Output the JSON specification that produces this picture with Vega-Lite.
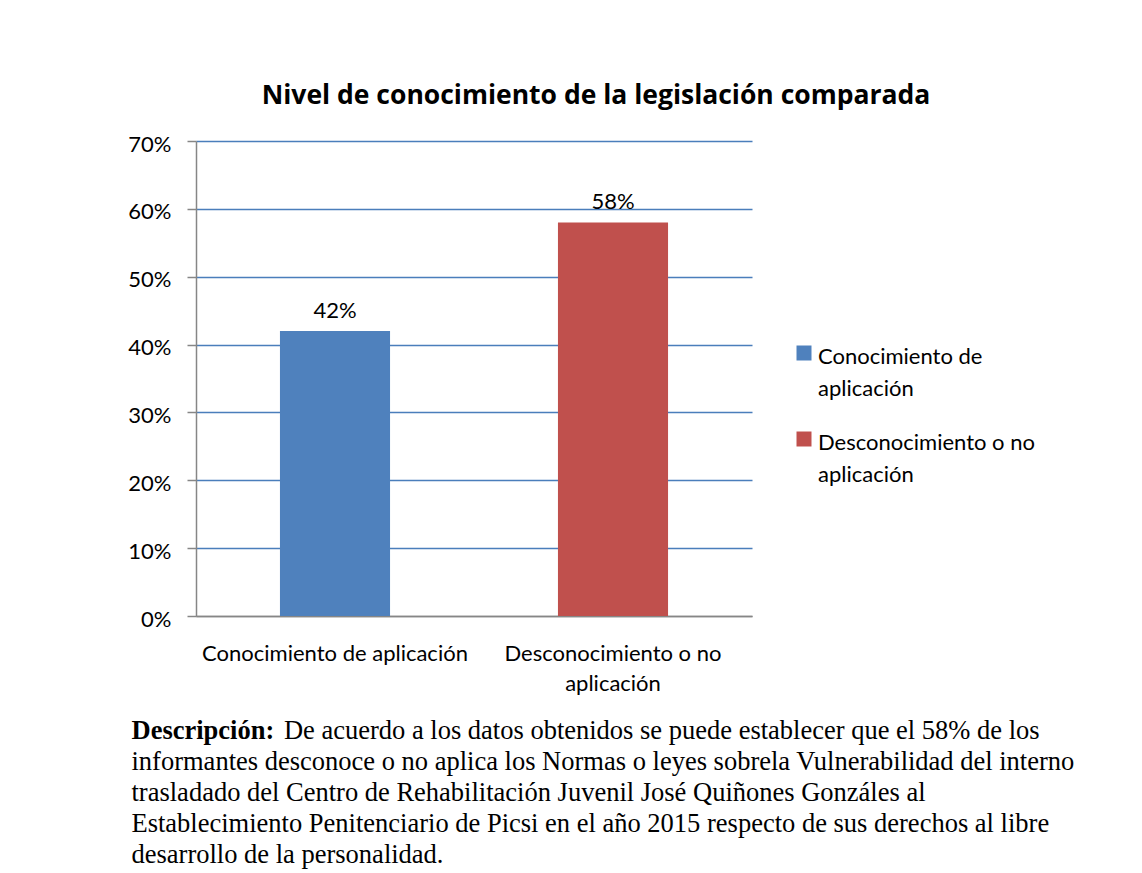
{
  "$schema": "https://vega.github.io/schema/vega-lite/v6.json",
  "width": 556,
  "height": 475,
  "autosize": "none",
  "padding": {"left": 196, "top": 141, "right": 390, "bottom": 257},
  "background": "white",
  "title": {
    "text": "Nivel de conocimiento de la legislación comparada",
    "font": "Open Sans",
    "fontSize": 26.5,
    "fontWeight": "bold",
    "color": "black",
    "anchor": "middle",
    "frame": "group",
    "dx": 122,
    "offset": 24
  },
  "data": {
    "values": [
      {"categoria": "Conocimiento de aplicación", "porcentaje": 0.42},
      {"categoria": "Desconocimiento o no aplicación", "porcentaje": 0.58}
    ]
  },
  "encoding": {
    "x": {
      "field": "categoria",
      "type": "nominal",
      "sort": null,
      "scale": {"paddingInner": 0.604, "paddingOuter": 0.302},
      "axis": {
        "labelAngle": 0,
        "labelFont": "Lato",
        "labelFontSize": 22,
        "labelColor": "black",
        "labelBaseline": "top",
        "labelPadding": 27,
        "labelLineHeight": 30,
        "labelLimit": 500,
        "labelExpr": "datum.label == 'Desconocimiento o no aplicación' ? ['Desconocimiento o no', 'aplicación'] : datum.label",
        "ticks": false,
        "domainColor": "#868686",
        "domainWidth": 1.5,
        "title": [
          "\u200b\u00a0\u00a0\u00a0\u00a0\u00a0\u00a0\u00a0\u00a0\u00a0\u00a0\u00a0\u00a0\u00a0\u00a0\u00a0\u00a0\u00a0\u00a0\u00a0\u00a0\u00a0\u00a0\u00a0De acuerdo a los datos obtenidos se puede establecer que el 58% de los",
          "informantes desconoce o no aplica los Normas o leyes sobrela Vulnerabilidad del interno",
          "trasladado del Centro de Rehabilitación Juvenil José Quiñones Gonzáles al",
          "Establecimiento Penitenciario de Picsi en el año 2015 respecto de sus derechos al libre",
          "desarrollo de la personalidad."
        ],
        "titleFont": "Liberation Serif",
        "titleFontSize": 26.5,
        "titleFontWeight": "normal",
        "titleColor": "black",
        "titleLineHeight": 31,
        "titleAlign": "left",
        "titleAnchor": "start",
        "titleBaseline": "alphabetic",
        "titleX": -65,
        "titleY": 122,
        "titleLimit": 2000
      }
    },
    "y": {
      "field": "porcentaje",
      "type": "quantitative",
      "scale": {"domain": [0, 0.7]},
      "axis": {
        "values": [0, 0.1, 0.2, 0.3, 0.4, 0.5, 0.6, 0.7],
        "format": ".0%",
        "labelFont": "Lato",
        "labelFontSize": 22,
        "labelColor": "black",
        "labelPadding": 16,
        "labelOffset": 3,
        "tickColor": "#868686",
        "tickSize": 9,
        "tickWidth": 1.5,
        "domainColor": "#868686",
        "domainWidth": 1.5,
        "grid": true,
        "gridColor": {"condition": {"test": "datum.value === 0", "value": "#868686"}, "value": "#4a7ebb"},
        "gridWidth": 1.5,
        "gridOpacity": 1,
        "title": "Descripción:",
        "titleFont": "Liberation Serif",
        "titleFontSize": 26.5,
        "titleFontWeight": "bold",
        "titleColor": "black",
        "titleAngle": 0,
        "titleAlign": "left",
        "titleBaseline": "alphabetic",
        "titleX": -65,
        "titleY": 597,
        "titleLimit": 500
      }
    }
  },
  "layer": [
    {
      "mark": {"type": "bar"},
      "encoding": {
        "color": {
          "field": "categoria",
          "type": "nominal",
          "sort": null,
          "scale": {"range": ["#4f81bd", "#c0504d"]},
          "legend": {
            "title": null,
            "orient": "none",
            "legendX": 597,
            "legendY": 201,
            "symbolType": "square",
            "symbolSize": 225,
            "symbolStrokeWidth": 0,
            "symbolOpacity": 1,
            "labelFont": "Lato",
            "labelFontSize": 22,
            "labelColor": "black",
            "labelOffset": 3,
            "labelLimit": 400,
            "rowPadding": 28,
            "labelExpr": "datum.label == 'Conocimiento de aplicación' ? ['Conocimiento de', 'aplicación'] : ['Desconocimiento o no', 'aplicación']",
            "encode": {
              "labels": {"update": {"lineHeight": {"value": 32}, "dy": {"value": 4}}}
            }
          }
        }
      }
    },
    {
      "mark": {"type": "text", "baseline": "alphabetic", "dy": -13, "font": "Lato", "fontSize": 22, "color": "black"},
      "encoding": {
        "text": {"field": "porcentaje", "type": "quantitative", "format": ".0%"}
      }
    }
  ],
  "config": {
    "view": {"stroke": null}
  }
}
